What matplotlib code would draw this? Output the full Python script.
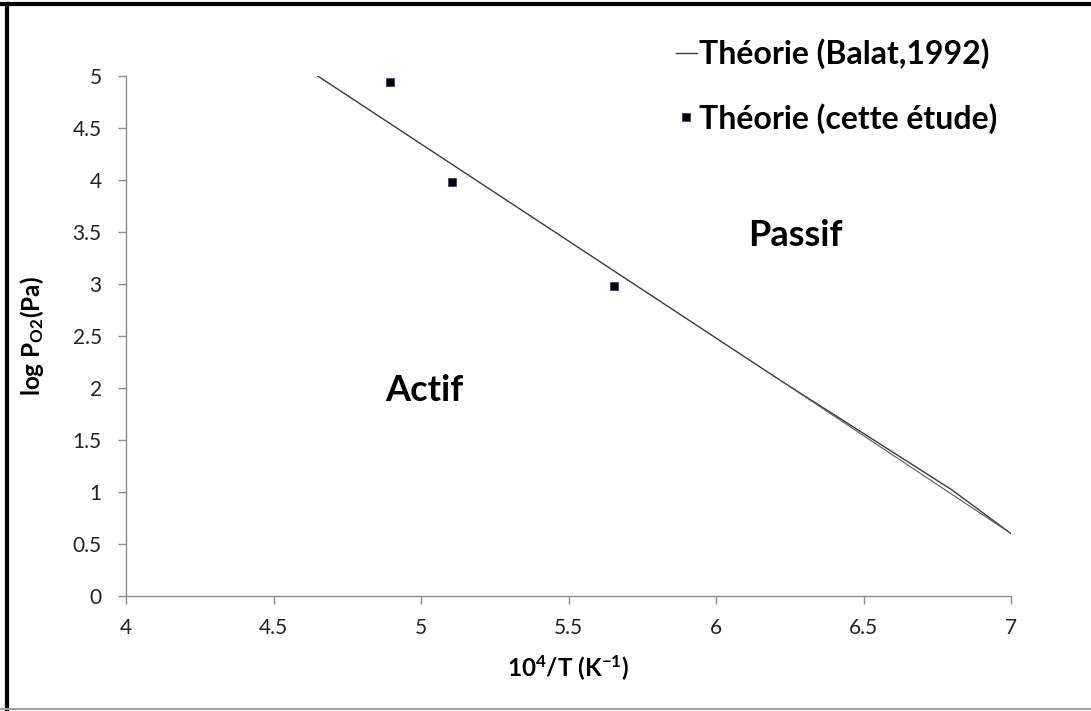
import numpy as np
import matplotlib
matplotlib.use("Agg")
import matplotlib.pyplot as plt
from matplotlib.lines import Line2D

plt.rcParams['font.family'] = ['Lato', 'DejaVu Sans']
plt.rcParams['mathtext.fontset'] = 'custom'
plt.rcParams['mathtext.rm'] = 'Lato:bold'
plt.rcParams['mathtext.bf'] = 'Lato:bold'
plt.rcParams['mathtext.default'] = 'rm'

# Balat (1992) boundary line
balat_x = [4.65, 6.22, 6.80, 7.00]
balat_y = [5.00, 2.07, 1.02, 0.60]
# straight part drawn under it (second stroke visible near the end)
balat2_x = [6.22, 7.00]
balat2_y = [2.07, 0.60]

# points from this study
etude_x = [4.895, 5.105, 5.655]
etude_y = [4.94, 3.98, 2.98]

xticks = [4, 4.5, 5, 5.5, 6, 6.5, 7]
yticks = [0, 0.5, 1, 1.5, 2, 2.5, 3, 3.5, 4, 4.5, 5]

fig = plt.figure(figsize=(10.91, 7.11), dpi=100)
ax = fig.add_axes([0.1155, 0.1617, 0.8112, 0.7314])

ax.plot(balat_x, balat_y, color='#3a3a3a', lw=1.0, label='Théorie (Balat,1992)')
ax.plot(balat2_x, balat2_y, color='#5a5a5a', lw=0.8)
ax.plot(etude_x, etude_y, ls='none', marker='s', markersize=6,
        markerfacecolor='black', markeredgecolor='#4a3a6a', markeredgewidth=0.6,
        label='Théorie (cette étude)')

ax.set_xlim(4, 7)
ax.set_ylim(0, 5)
ax.set_xticks(xticks)
ax.set_yticks(yticks)
ax.set_xticklabels([f'{t:g}' for t in xticks])
ax.set_yticklabels([f'{t:g}' for t in yticks])

for s in ['top', 'right']:
    ax.spines[s].set_visible(False)
for s in ['left', 'bottom']:
    ax.spines[s].set_color('#8c8c8c')
    ax.spines[s].set_linewidth(1.0)
ax.tick_params(axis='both', direction='out', length=6, width=1, color='#8c8c8c',
               labelsize=15, labelcolor='#222222')
ax.tick_params(axis='x', pad=10)
ax.tick_params(axis='y', pad=11.5)

ax.set_xlabel('10$^{4}$/T (K$^{-1}$)', fontsize=17.5, fontweight='bold', labelpad=11)
ax.set_ylabel('log P$_{O2}$(Pa)', fontsize=17.5, fontweight='bold', labelpad=19)

ax.text(6.27, 3.47, 'Passif', fontsize=26, fontweight='bold', ha='center', va='center')
ax.text(5.01, 1.98, 'Actif', fontsize=26, fontweight='bold', ha='center', va='center')

leg = ax.legend(loc='upper left', bbox_to_anchor=(0.605, 0.968), bbox_transform=fig.transFigure,
                frameon=False, borderpad=0, handlelength=0.65, handletextpad=0.08, labelspacing=1.05,
                prop={'family': 'Lato', 'weight': 'bold', 'size': 23})

# figure frame like the original screenshot
fig.add_artist(Line2D([0.0065, 0.0065], [0.0, 0.995], transform=fig.transFigure, color='black', lw=3))
fig.add_artist(Line2D([0.0, 1.0], [0.994, 0.994], transform=fig.transFigure, color='black', lw=3))
fig.add_artist(Line2D([0.0, 1.0], [0.0035, 0.0035], transform=fig.transFigure, color='#a0a0a0', lw=1.5))

fig.savefig('out.png', dpi=100)
